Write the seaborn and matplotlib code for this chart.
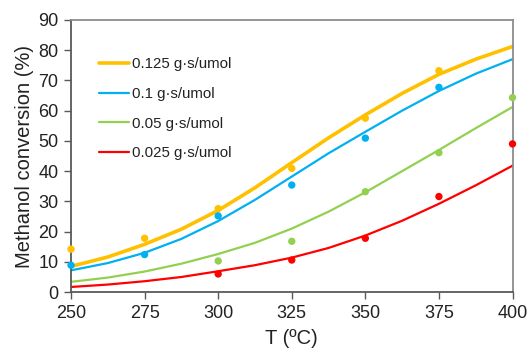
import matplotlib
matplotlib.use("Agg")
import matplotlib.pyplot as plt
import seaborn as sns
import pandas as pd

# ---- data ----
series = ["0.125 g·s/umol", "0.1 g·s/umol", "0.05 g·s/umol", "0.025 g·s/umol"]
colors = ["#FFC000", "#00B0F0", "#92D050", "#FF0000"]
widths = [2.6, 1.6, 1.6, 1.6]

# fitted curves
curve_T = [250, 262.5, 275, 287.5, 300, 312.5, 325, 337.5, 350, 362.5, 375, 387.5, 400]
curve_0125 = [8.5, 11.6, 15.8, 20.8, 27.0, 34.5, 42.8, 51.0, 58.6, 65.7, 72.0, 77.0, 81.2]
curve_01 = [7.2, 9.6, 13.0, 17.6, 23.5, 30.5, 38.2, 45.9, 53.0, 60.0, 66.5, 72.2, 77.0]
curve_005 = [3.4, 4.8, 6.8, 9.4, 12.6, 16.3, 21.0, 26.6, 33.0, 40.0, 47.0, 54.2, 61.2]
curve_0025 = [1.7, 2.5, 3.6, 5.0, 6.9, 8.9, 11.4, 14.6, 18.7, 23.6, 29.2, 35.3, 41.8]

# measured points
T_0125 = [250, 275, 300, 325, 350, 375]
y_0125 = [14.2, 17.8, 27.6, 40.9, 57.5, 73.2]
T_01 = [250, 275, 300, 325, 350, 375]
y_01 = [8.9, 12.4, 25.2, 35.4, 50.9, 67.7]
T_005 = [300, 325, 350, 375, 400]
y_005 = [10.3, 16.8, 33.2, 46.1, 64.3]
T_0025 = [300, 325, 350, 375, 400]
y_0025 = [6.0, 10.6, 17.8, 31.6, 49.0]

x_ticks = [250, 275, 300, 325, 350, 375, 400]
y_ticks = [0, 10, 20, 30, 40, 50, 60, 70, 80, 90]

curves = [curve_0125, curve_01, curve_005, curve_0025]
pts = [(T_0125, y_0125), (T_01, y_01), (T_005, y_005), (T_0025, y_0025)]

# ---- plot ----
sns.set_theme(style="white")
plt.rcParams["font.family"] = ["Liberation Sans", "DejaVu Sans"]

fig = plt.figure(figsize=(5.30, 3.49), dpi=100)
ax = fig.add_axes([0.134, 0.163, 0.833, 0.780])

for name, c, w, cv in zip(series, colors, widths, curves):
    df = pd.DataFrame({"T": curve_T, "X": cv})
    sns.lineplot(data=df, x="T", y="X", color=c, linewidth=w, ax=ax, label=name)

for name, c, (tx, ty) in zip(series, colors, pts):
    df = pd.DataFrame({"T": tx, "X": ty})
    sns.scatterplot(data=df, x="T", y="X", color=c, s=28, edgecolor="none",
                    ax=ax, clip_on=False, zorder=3, legend=False)

ax.set_xlim(250, 400)
ax.set_ylim(0, 90)
ax.set_xticks(x_ticks)
ax.set_yticks(y_ticks)
ax.tick_params(axis="both", labelsize=13, colors="#222222", length=5, width=1,
               direction="out", bottom=True, left=True, pad=4)
ax.tick_params(axis="both", color="#595959")
ax.set_xlabel("T (ºC)", fontsize=14.5, color="#222222", labelpad=5)
ax.set_ylabel("Methanol conversion (%)", fontsize=14.5, color="#222222", labelpad=3)

for s in ["left", "bottom"]:
    ax.spines[s].set_color("#595959")
    ax.spines[s].set_linewidth(1.3)
for s in ["top", "right"]:
    ax.spines[s].set_color("#8C8C8C")
    ax.spines[s].set_linewidth(1.3)

leg = ax.legend(loc="upper left", bbox_to_anchor=(0.05, 0.885), frameon=False,
                fontsize=10.8, handlelength=2.0, handletextpad=0.2, labelspacing=1.05,
                borderaxespad=0)
for t in leg.get_texts():
    t.set_color("#222222")

fig.savefig("out.png", dpi=100)
